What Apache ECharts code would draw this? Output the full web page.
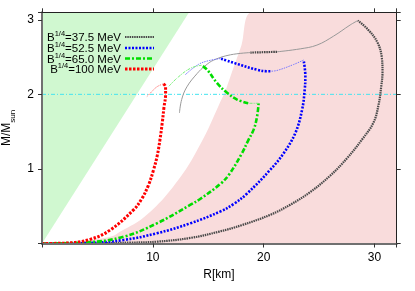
<!DOCTYPE html>
<html><head><meta charset="utf-8">
<script src="https://cdn.jsdelivr.net/npm/echarts@6/dist/echarts.min.js"></script>
<style>html,body{margin:0;padding:0;background:#fff}#c{width:415px;height:291px}</style>
</head><body><div id="c"></div>
<script>
// Legend labels
const labels = ['37.5', '52.5', '65.0', '100'];
const xTicks = [10, 20, 30];
const yTicks = [1, 2, 3];

// Shaded regions (R [km], M/Msun)
const causalEdge = [[0, 0], [13.27, 3.1]];
const pinkEdge = [[3, 0.012], [5, 0.06], [6.4, 0.1], [7, 0.155], [9, 0.33], [11, 0.61], [13, 1.0], [14, 1.255], [15, 1.54], [16, 1.87], [16.5, 2.03], [17, 2.24], [18, 2.66], [18.94, 3.1], [32, 3.1]];
const refLine = [[0, 2], [32, 2]];

// B^1/4 = 37.5 MeV
const b375Thick = [[0, 0], [5, 0.004], [8, 0.012], [10.4, 0.025], [13.4, 0.075], [16, 0.16], [18, 0.245], [20.6, 0.385], [22.4, 0.52], [24.2, 0.69], [26, 0.91], [27.5, 1.14], [28.9, 1.4], [29.9, 1.62], [30.35, 1.85], [30.6, 2.1], [30.72, 2.3], [30.65, 2.5], [30.25, 2.7], [29.4, 2.87], [28.5, 2.99]];
const b375Thin1 = [[28.5, 2.99], [27.8, 2.93], [26.3, 2.78], [24.8, 2.66], [23.3, 2.61], [21.2, 2.57]];
const b375Mid = [[21.2, 2.57], [18.8, 2.56]];
const b375Thin2 = [[18.8, 2.56], [17.0, 2.53], [15.5, 2.46], [14.7, 2.38], [14.0, 2.28], [13.07, 2.1], [12.6, 1.93], [12.4, 1.75]];

// B^1/4 = 52.5 MeV
const b525Thick = [[0, 0], [4, 0.006], [7.35, 0.047], [10.36, 0.137], [13.37, 0.27], [16.1, 0.43], [17.3, 0.53], [18.5, 0.67], [20.6, 0.99], [21.8, 1.21], [22.85, 1.48], [23.46, 1.79], [23.7, 2.06], [23.76, 2.24], [23.6, 2.46]];
const b525Thin1 = [[23.6, 2.46], [22.7, 2.4], [21.2, 2.32], [20.6, 2.31]];
const b525Mid = [[20.6, 2.31], [20.3, 2.31], [19.4, 2.33], [18, 2.39], [16.1, 2.48]];
const b525Thin2 = [[16.1, 2.48], [15.0, 2.45], [14.1, 2.4], [12.9, 2.26]];

// B^1/4 = 65.0 MeV
const b650Thick = [[0, 0], [4, 0.015], [7.35, 0.09], [10.36, 0.27], [13.4, 0.52], [14.3, 0.6], [16.1, 0.8], [16.9, 0.93], [18.0, 1.2], [18.6, 1.38], [19.1, 1.53], [19.4, 1.7], [19.54, 1.88]];
const b650Thin1 = [[19.54, 1.88], [18.6, 1.88]];
const b650Mid = [[18.6, 1.88], [17.6, 1.93], [16.7, 2.02], [15.8, 2.15], [14.9, 2.33], [14.4, 2.39]];
const b650Thin2 = [[14.4, 2.39], [13.4, 2.35], [12.2, 2.22], [11.4, 2.1]];

// B^1/4 = 100 MeV
const b100Thick = [[0, 0], [2, 0.005], [4.34, 0.056], [6.14, 0.18], [8.25, 0.45], [9.0, 0.6], [9.6, 0.78], [10.05, 0.98], [10.4, 1.18], [10.65, 1.4], [10.85, 1.62], [11.0, 1.82], [11.15, 2.0], [11.15, 2.1], [10.95, 2.14]];
const b100Thin = [[10.95, 2.14], [10.36, 2.1], [9.6, 1.99], [9.46, 1.97]];

const FONT = 'Liberation Sans';
const thick = {
  k: {color: '#4a4a4a', width: 2.2, type: [1.5, 0.8]},
  b: {color: '#0000ff', width: 2.6, type: [2, 1.5]},
  g: {color: '#00dd00', width: 2.6, type: [5, 2, 2, 2]},
  r: {color: '#ff0000', width: 3, type: [2.5, 1.5]}
};
const thin = {
  k: {color: '#999999', width: 1, type: 'solid'},
  b: {color: '#7777ff', width: 1, type: [1.5, 1]},
  g: {color: '#77ee77', width: 1, type: [3, 1, 1, 1]},
  r: {color: '#ff7777', width: 1, type: [1.5, 1]}
};
function ln(data, st, z) {
  return {type: 'line', data: data, symbol: 'none', silent: true, z: z || 3, smooth: 0.4,
    lineStyle: {color: st.color, width: st.width, type: st.type}, animation: false};
}

const chart = echarts.init(document.getElementById('c'), null, {renderer: 'canvas'});
const axisCommon = {min: 0, splitLine: {show: false}, z: 10};
const series = [
  {type: 'line', data: pinkEdge, symbol: 'none', silent: true, z: 1, smooth: 0.3, lineStyle: {width: 0}, areaStyle: {color: '#f9dcdc', opacity: 1}, animation: false},
  {type: 'line', data: causalEdge, symbol: 'none', silent: true, z: 1, lineStyle: {width: 0}, areaStyle: {color: '#d0f8d0', opacity: 1, origin: 'end'}, animation: false},
  {type: 'line', data: refLine, symbol: 'none', silent: true, z: 2, lineStyle: {color: '#44e4f0', width: 1, type: [4, 2, 1, 2]}, animation: false},
  ln(b375Thick, thick.k), ln(b375Thin1, thin.k), ln(b375Mid, thick.k), ln(b375Thin2, thin.k),
  ln(b525Thick, thick.b), ln(b525Thin1, thin.b), ln(b525Mid, thick.b), ln(b525Thin2, thin.b),
  ln(b650Thick, thick.g), ln(b650Thin1, thin.g), ln(b650Mid, thick.g), ln(b650Thin2, thin.g),
  ln(b100Thick, thick.r), ln(b100Thin, thin.r)
];

const legendStyles = [thick.k, thick.b, thick.g, thick.r];
const rowY = [37, 48, 58.5, 69];
const graphic = [];
labels.forEach((lab, i) => {
  graphic.push({type: 'text', z: 20, silent: true, style: {
    text: '{m|B}{s|1/4}{m|=' + lab + ' MeV}', x: 121, y: rowY[i], align: 'right', verticalAlign: 'middle',
    rich: {
      m: {fontSize: 11.5, fontFamily: FONT, fill: '#000', verticalAlign: 'bottom', lineHeight: 14},
      s: {fontSize: 7.5, fontFamily: FONT, fill: '#000', verticalAlign: 'top', lineHeight: 14}
    }}});
  const st = legendStyles[i];
  graphic.push({type: 'line', z: 20, silent: true, shape: {x1: 125, y1: rowY[i], x2: 154, y2: rowY[i]},
    style: {stroke: st.color, lineWidth: st.width, lineDash: st.type}});
});
graphic.push({type: 'text', z: 20, silent: true, x: 9, y: 128, rotation: Math.PI / 2, style: {
  text: '{m|M/M}{s|sun}', align: 'center', verticalAlign: 'middle',
  rich: {
    m: {fontSize: 12, fontFamily: FONT, fill: '#000', verticalAlign: 'top', lineHeight: 16},
    s: {fontSize: 8, fontFamily: FONT, fill: '#000', verticalAlign: 'bottom', lineHeight: 16}
  }}});
graphic.push({type: 'text', z: 20, silent: true, style: {text: 'R[km]', x: 219, y: 275, align: 'center', verticalAlign: 'middle', fontSize: 12, fontFamily: FONT, fill: '#000'}});

chart.setOption({
  animation: false,
  grid: {left: 42, right: 18.3, top: 12.3, bottom: 47.5},
  xAxis: [
    Object.assign({}, axisCommon, {type: 'value', max: 32, interval: 10, position: 'bottom',
      axisLine: {show: true, onZero: false, lineStyle: {color: '#707070', width: 2}},
      axisTick: {show: true, inside: false, length: 4, lineStyle: {color: '#333'}},
      axisLabel: {show: true, margin: 8, fontSize: 12, fontFamily: FONT, color: '#000',
        formatter: v => xTicks.indexOf(v) >= 0 ? String(v) : ''}}),
    Object.assign({}, axisCommon, {type: 'value', max: 32, interval: 10, position: 'top',
      axisLine: {show: true, onZero: false, lineStyle: {color: '#222', width: 1}},
      axisTick: {show: true, inside: false, length: 4, lineStyle: {color: '#333'}},
      axisLabel: {show: false}})
  ],
  yAxis: [
    Object.assign({}, axisCommon, {type: 'value', max: 3.1, interval: 1, position: 'left',
      axisLine: {show: true, onZero: false, lineStyle: {color: '#707070', width: 2}},
      axisTick: {show: true, inside: false, length: 4, lineStyle: {color: '#333'}},
      axisLabel: {show: true, margin: 8, fontSize: 12, fontFamily: FONT, color: '#000',
        formatter: v => yTicks.indexOf(v) >= 0 ? String(v) : ''}}),
    Object.assign({}, axisCommon, {type: 'value', max: 3.1, interval: 1, position: 'right',
      axisLine: {show: true, onZero: false, lineStyle: {color: '#222', width: 1}},
      axisTick: {show: true, inside: false, length: 4, lineStyle: {color: '#333'}},
      axisLabel: {show: false}})
  ],
  series: series,
  graphic: graphic
});
</script></body></html>
